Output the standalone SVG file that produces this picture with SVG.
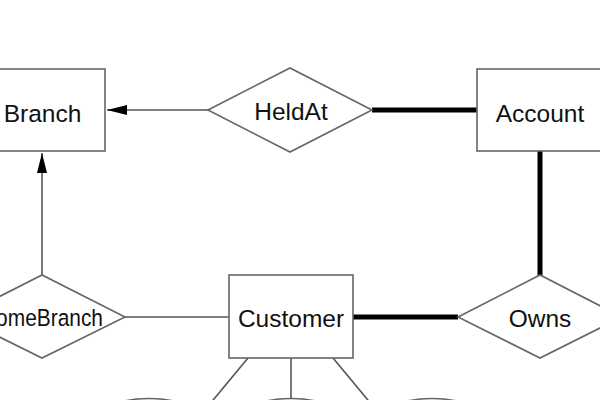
<svg xmlns="http://www.w3.org/2000/svg" width="600" height="400" viewBox="0 0 600 400">
<style>
.ent{fill:#fff;stroke:#666;stroke-width:1.6}
.rel{fill:#fff;stroke:#666;stroke-width:1.6}
.att{fill:#fff;stroke:#666;stroke-width:1.6}
.lbl{font-family:"Liberation Sans",Arial,sans-serif;font-size:24.5px;fill:#111;text-anchor:middle}
.thin{stroke:#555;stroke-width:1.6;fill:none}
.thick{stroke:#000;stroke-width:5;fill:none}
</style>
<defs>
<marker id="arr" viewBox="0 0 20 12" refX="20" refY="6" markerWidth="20" markerHeight="12" markerUnits="userSpaceOnUse" orient="auto">
<path d="M0,1 L20,6 L0,11 Z" fill="#000"/>
</marker>
</defs>
<rect width="600" height="400" fill="#fff"/>
<g id="connectors">
<line class="thin" x1="208" y1="110" x2="107" y2="110" marker-end="url(#arr)"/>
<line class="thick" x1="372" y1="110" x2="477" y2="110"/>
<line class="thick" x1="540" y1="151" x2="540" y2="276"/>
<line class="thick" x1="353" y1="317" x2="458" y2="317"/>
<line class="thin" x1="125" y1="317" x2="229" y2="317"/>
<line class="thin" x1="42" y1="275" x2="42" y2="153" marker-end="url(#arr)"/>
<line class="thin" x1="248" y1="358" x2="204" y2="411"/>
<line class="thin" x1="291" y1="358" x2="291" y2="400"/>
<line class="thin" x1="333" y1="358" x2="377" y2="411"/>
</g>
<g id="Branch">
<rect class="ent" x="-20" y="69" width="125" height="82"/>
<text class="lbl" x="42.5" y="121.5">Branch</text>
</g>
<g id="HeldAt">
<polygon class="rel" points="208,110 290,68 372,110 290,152"/>
<text class="lbl" x="291" y="120">HeldAt</text>
</g>
<g id="Account">
<rect class="ent" x="477" y="69" width="124" height="82"/>
<text class="lbl" x="540" y="121.5">Account</text>
</g>
<g id="HomeBranch">
<polygon class="rel" points="-41,317 42,275 125,317 42,358"/>
<text class="lbl" x="42" y="326" font-size="21" textLength="122" lengthAdjust="spacingAndGlyphs">HomeBranch</text>
</g>
<g id="Customer">
<rect class="ent" x="229" y="275" width="124" height="83"/>
<text class="lbl" x="291" y="326.5">Customer</text>
</g>
<g id="Owns">
<polygon class="rel" points="458,317 540,275 622,317 540,358"/>
<text class="lbl" x="540" y="326.5">Owns</text>
</g>
<g id="attr1"><ellipse class="att" cx="149" cy="423" rx="55" ry="24.5"/></g>
<g id="attr2"><ellipse class="att" cx="291" cy="423" rx="55" ry="24.5"/></g>
<g id="attr3"><ellipse class="att" cx="432" cy="423" rx="55" ry="24.5"/></g>
</svg>
